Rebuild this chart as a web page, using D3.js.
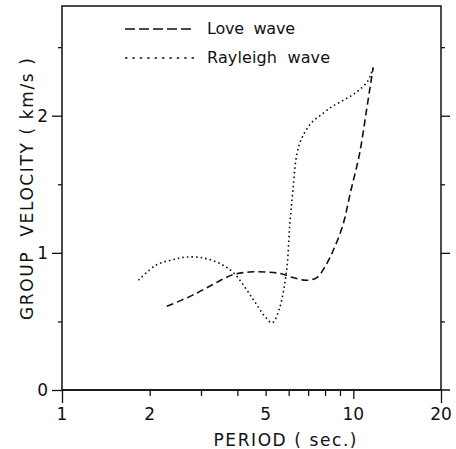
<!DOCTYPE html>
<html>
<head>
<meta charset="utf-8">
<script src="https://cdn.jsdelivr.net/npm/d3@7"></script>
<style>
  body { margin: 0; background: #fff; }
  text { font-family: "DejaVu Sans", sans-serif; fill: #111; white-space: pre; }
</style>
</head>
<body>
<div id="chart"></div>
<script>
/* Group velocity dispersion curves (Love / Rayleigh) */

// data: period (s) and group velocity (km/s)
const lovePeriod = [2.29, 2.8, 3.3, 3.85, 4.4, 5.0, 5.6, 6.2, 6.9, 7.5, 8.0, 8.5, 9.2, 9.8, 10.5, 11.1, 11.5, 11.7];
const loveVel    = [0.61, 0.69, 0.77, 0.84, 0.86, 0.86, 0.85, 0.82, 0.80, 0.82, 0.90, 1.01, 1.20, 1.45, 1.72, 2.04, 2.25, 2.35];

const rayPeriod = [1.83, 2.1, 2.4, 2.7, 3.1, 3.5, 3.9, 4.5, 5.0, 5.27, 5.57, 5.9, 6.05, 6.2, 6.4, 6.7, 7.2, 7.9, 8.5, 9.2, 9.9, 10.5, 11.2, 11.7];
const rayVel    = [0.80, 0.91, 0.95, 0.97, 0.96, 0.92, 0.85, 0.67, 0.53, 0.49, 0.59, 0.87, 1.20, 1.45, 1.72, 1.85, 1.95, 2.02, 2.07, 2.11, 2.15, 2.19, 2.25, 2.35];

const xMajor = [1, 2, 5, 10, 20];
const xMinor = [3, 4, 6, 7, 8, 9];
const yMajor = [0, 1, 2];
const yMinor = [0.5, 1.5, 2.5];

const legendNames = ["Love  wave", "Rayleigh  wave"];

const width = 456,
      height = 449,
      margin = ({ top: 6, right: 15, bottom: 59, left: 62 });

let svg = d3.select("#chart")
    .append("svg")
    .attr("width", width)
    .attr("height", height);

let x = d3.scaleLog()
    .domain([1, 20])
    .range([margin.left, width - margin.right]);

let y = d3.scaleLinear()
    .domain([0, 2.8])
    .range([height - margin.bottom, margin.top]);

// frame
svg.append("rect")
    .attr("x", x(1))
    .attr("y", y(2.8))
    .attr("width", x(20) - x(1))
    .attr("height", y(0) - y(2.8))
    .attr("fill", "none")
    .attr("stroke", "#111")
    .attr("stroke-width", 1.5);

// bottom axis: ticks downward
let xAxis = svg.append("g")
    .attr("transform", `translate(0,${y(0)})`)
    .call(d3.axisBottom(x).tickValues(xMajor.concat(xMinor)).tickFormat("").tickSizeOuter(0).tickSize(5));
xAxis.select(".domain").remove();
xAxis.selectAll(".tick line")
    .attr("stroke", "#111").attr("stroke-width", 1.3)
    .attr("y2", d => d === 10 ? 9 : (d === 1 || d === 20 ? 13 : 6));

// axis extensions past the corners
svg.append("line").attr("x1", x(1)).attr("x2", x(20) + 9)
    .attr("y1", y(0)).attr("y2", y(0)).attr("stroke", "#111").attr("stroke-width", 1.5);

svg.selectAll(".xlab")
    .data(xMajor)
    .join("text")
    .attr("class", "xlab")
    .attr("x", d => x(d))
    .attr("y", 420)
    .attr("text-anchor", "middle")
    .attr("font-size", 17)
    .text(d => d);

// left axis: ticks outward
let yAxis = svg.append("g")
    .attr("transform", `translate(${x(1)},0)`)
    .call(d3.axisLeft(y).tickValues(yMajor.concat(yMinor)).tickFormat("").tickSizeOuter(0));
yAxis.select(".domain").remove();
yAxis.selectAll(".tick line")
    .attr("stroke", "#111").attr("stroke-width", 1.3)
    .attr("x2", d => yMajor.includes(d) ? -10 : -4);

// right axis: ticks outward
let yAxisR = svg.append("g")
    .attr("transform", `translate(${x(20)},0)`)
    .call(d3.axisRight(y).tickValues(yMajor.concat(yMinor)).tickFormat("").tickSizeOuter(0));
yAxisR.select(".domain").remove();
yAxisR.selectAll(".tick line")
    .attr("stroke", "#111").attr("stroke-width", 1.3)
    .attr("x2", d => d === 0 ? 0 : (yMajor.includes(d) ? 9 : 4));

svg.selectAll(".ylab")
    .data(yMajor)
    .join("text")
    .attr("class", "ylab")
    .attr("x", 48)
    .attr("y", d => y(d) + 6)
    .attr("text-anchor", "end")
    .attr("font-size", 17)
    .text(d => d);

// axis titles
svg.append("text")
    .attr("x", 285)
    .attr("y", 446)
    .attr("text-anchor", "middle")
    .attr("font-size", 17)
    .attr("textLength", 143)
    .attr("lengthAdjust", "spacing")
    .text("PERIOD ( sec.)");

svg.append("text")
    .attr("transform", "translate(33,189) rotate(-90)")
    .attr("text-anchor", "middle")
    .attr("font-size", 17)
    .attr("textLength", 262)
    .attr("lengthAdjust", "spacing")
    .text("GROUP  VELOCITY ( km/s )");

// curves
let line = d3.line()
    .x(d => x(d[0]))
    .y(d => y(d[1]))
    .curve(d3.curveCatmullRom.alpha(0.5));

const loveData = lovePeriod.map((p, i) => [p, loveVel[i]]);
const rayData = rayPeriod.map((p, i) => [p, rayVel[i]]);

svg.append("path")
    .datum(loveData)
    .attr("d", line)
    .attr("fill", "none")
    .attr("stroke", "#111")
    .attr("stroke-width", 1.6)
    .attr("stroke-dasharray", "7,4");

svg.append("path")
    .datum(rayData)
    .attr("d", line)
    .attr("fill", "none")
    .attr("stroke", "#111")
    .attr("stroke-width", 1.6)
    .attr("stroke-dasharray", "1.6,3");

// legend
const legendY = [29, 58];
const legendDash = ["10,4", "2.4,5"];
const legendLen = [88, 123];

let leg = svg.selectAll(".leg")
    .data(legendNames)
    .join("g")
    .attr("class", "leg")
    .attr("transform", (d, i) => `translate(125,${legendY[i]})`);

leg.append("line")
    .attr("x1", 0).attr("x2", (d, i) => i === 0 ? 68 : 72)
    .attr("stroke", "#111")
    .attr("stroke-width", 1.6)
    .attr("stroke-dasharray", (d, i) => legendDash[i]);

leg.append("text")
    .attr("x", 82)
    .attr("y", 5)
    .attr("font-size", 16)
    .attr("textLength", (d, i) => legendLen[i])
    .attr("lengthAdjust", "spacing")
    .text(d => d);
</script>
</body>
</html>
